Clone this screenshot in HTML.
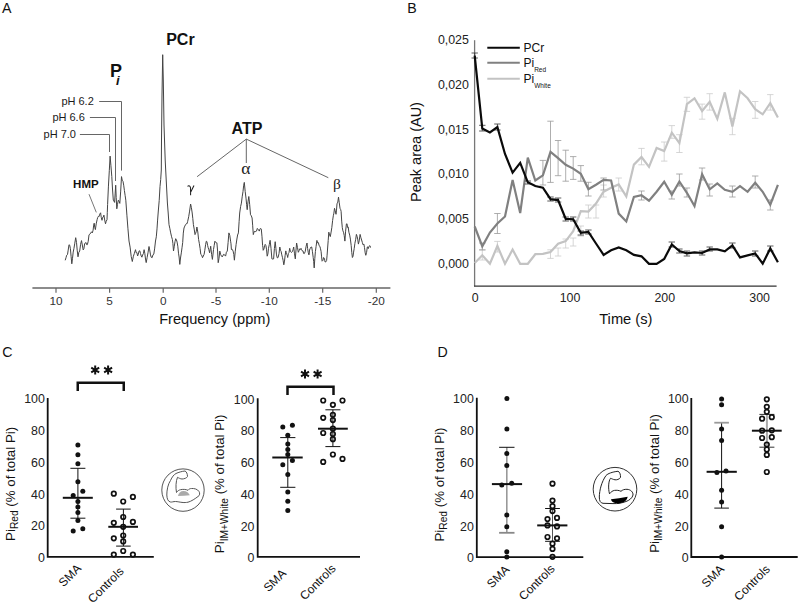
<!DOCTYPE html>
<html><head><meta charset="utf-8">
<style>
html,body{margin:0;padding:0;background:#fff;}
body{width:800px;height:604px;overflow:hidden;}
svg{display:block;font-family:"Liberation Sans",sans-serif;}
.tk{font-size:12px;fill:#222;}
.tkc{font-size:12.4px;fill:#222;}
.tka{font-size:11.8px;fill:#333;}
.pl{font-size:14.2px;fill:#111;}
</style></head><body>
<svg width="800" height="604" viewBox="0 0 800 604">
<rect width="800" height="604" fill="#fff"/>

<text x="2" y="12.7" class="pl">A</text>
<text x="407.3" y="12.5" class="pl">B</text>
<text x="2.2" y="356.6" class="pl">C</text>
<text x="437.6" y="356.9" class="pl">D</text>
<polyline points="65.2,260.3 66.0,257.7 66.7,255.2 67.5,254.5 68.2,250.1 69.0,244.7 69.7,245.2 70.4,248.7 71.1,256.4 71.8,263.8 72.5,258.3 73.2,252.1 73.9,248.7 74.8,243.2 75.7,237.7 76.5,242.4 77.2,250.2 78.0,256.8 78.8,252.4 79.7,251.0 80.6,244.3 81.5,240.6 82.3,245.0 83.2,249.9 83.9,248.7 84.6,243.9 85.3,242.9 86.0,242.5 86.6,244.6 87.3,244.7 88.2,241.4 89.0,234.8 89.8,234.2 90.7,233.1 91.5,231.8 92.3,232.9 93.1,230.2 93.7,225.1 94.2,223.2 94.8,227.7 95.4,229.6 96.2,223.9 97.1,219.7 97.7,217.5 98.3,216.4 98.9,216.8 99.8,214.1 100.6,212.8 101.3,217.7 102.0,220.3 102.6,217.4 103.3,217.1 103.9,215.1 104.7,220.0 105.5,223.8 106.2,221.3 107.0,219.7 107.3,212.3 107.6,204.6 108.4,186.9 109.3,170.7 110.1,156.1 110.9,165.3 111.8,176.6 112.5,189.0 113.3,200.2 113.9,201.0 114.6,202.4 115.2,193.1 115.7,185.2 116.2,197.3 116.8,208.8 117.5,204.3 118.3,200.2 119.0,201.1 119.8,203.4 120.7,191.1 121.5,176.6 122.2,180.2 123.0,181.4 123.7,185.2 124.4,190.5 125.1,195.3 125.8,200.2 126.9,215.2 127.9,228.2 129.0,241.0 130.1,247.1 131.2,256.4 132.3,261.5 133.4,256.2 134.4,253.3 135.5,249.7 136.2,252.7 136.9,252.6 137.6,256.0 138.3,254.2 139.1,250.9 139.8,250.8 140.5,253.5 141.2,256.0 141.9,257.2 142.6,255.0 143.4,253.6 144.1,249.7 144.8,253.3 145.5,259.0 146.2,262.6 147.1,257.6 148.1,252.2 149.0,246.5 149.7,249.9 150.5,254.9 151.2,257.2 152.1,257.7 152.9,255.0 153.8,254.0 154.6,248.9 155.5,241.0 156.3,236.8 157.0,228.9 157.6,220.1 158.3,211.0 159.2,200.6 160.0,186.6 160.7,179.5 161.3,170.0 161.5,140.0 162.0,95.0 162.7,54.7 163.3,80.0 164.0,125.0 165.2,160.0 165.7,170.0 167.4,203.0 168.2,213.0 169.0,224.6 169.8,228.3 170.7,232.9 171.6,236.8 172.4,239.5 172.9,243.5 173.5,251.0 174.2,246.8 175.0,241.6 175.7,238.7 176.4,239.8 177.1,242.1 177.8,246.2 178.5,253.2 179.1,257.0 179.8,264.4 180.5,258.0 181.3,252.9 182.0,247.8 182.7,242.5 183.3,233.1 184.0,228.0 184.8,226.1 185.6,224.6 186.3,223.7 187.0,223.8 187.7,221.3 188.7,216.7 189.6,211.1 190.6,204.0 191.4,207.7 192.2,213.0 192.8,218.5 193.4,224.6 194.2,229.1 195.0,234.6 195.6,233.4 196.3,231.2 196.9,227.0 197.8,232.0 198.6,239.5 199.3,243.3 200.1,248.5 200.8,254.4 201.7,255.1 202.5,257.7 203.3,256.0 204.1,254.4 204.8,250.3 205.6,244.7 206.3,241.2 206.9,241.6 207.6,245.3 208.2,247.8 208.9,249.8 209.6,252.8 210.1,249.7 210.7,246.2 211.6,254.4 212.4,259.4 212.9,255.1 213.5,249.5 214.2,245.4 214.9,241.2 215.6,242.2 216.2,242.9 216.9,242.8 217.6,251.1 218.2,262.7 219.0,258.3 219.8,251.1 220.7,254.6 221.5,256.1 222.2,256.9 222.8,256.0 223.5,254.4 224.2,254.6 224.9,255.2 225.6,256.1 226.4,252.2 227.3,251.1 228.1,242.5 228.9,232.9 229.8,235.5 230.6,241.2 231.0,243.8 231.4,249.5 232.2,249.3 233.1,251.1 233.8,254.4 234.4,260.2 235.2,251.8 236.1,244.5 236.9,239.0 237.6,235.0 238.4,232.9 239.1,221.7 239.7,213.0 240.6,206.6 241.4,203.1 242.2,196.8 243.0,191.5 243.7,185.2 244.3,182.4 245.2,191.6 246.0,198.1 246.6,204.3 247.2,209.7 248.0,201.8 248.8,196.5 249.7,204.7 250.5,214.7 251.3,215.8 252.1,218.0 252.7,225.8 253.3,234.6 254.2,231.6 255.0,231.3 255.8,231.6 256.5,231.1 257.3,228.4 258.0,229.2 258.6,230.1 259.3,231.1 260.0,228.9 260.6,228.3 261.3,229.1 262.0,236.8 262.6,245.6 262.9,247.1 263.2,250.3 263.9,249.1 264.6,245.6 265.2,244.4 265.9,245.6 266.5,249.2 267.2,256.2 267.9,253.9 268.5,248.3 269.3,244.4 270.1,240.3 271.0,248.3 271.9,258.9 272.8,259.1 273.6,258.9 274.4,248.6 275.2,241.7 275.9,248.4 276.5,254.9 277.3,257.9 278.1,257.5 279.0,253.6 279.8,247.0 280.5,250.3 281.1,251.4 281.8,254.9 282.5,257.7 283.1,260.3 283.8,264.8 284.5,261.1 285.1,255.7 285.8,250.9 286.4,254.1 287.1,254.7 287.7,257.5 288.4,253.4 289.0,252.5 289.7,248.3 290.4,251.4 291.0,252.2 291.7,252.3 292.4,251.6 293.0,249.9 293.7,247.0 294.5,253.8 295.3,258.9 296.0,250.0 296.6,243.0 297.5,247.7 298.3,252.3 299.0,250.9 299.6,248.8 300.3,249.6 301.0,248.3 301.6,249.7 302.3,250.9 303.0,250.9 303.6,253.4 304.3,253.6 305.2,251.7 306.1,246.3 307.0,243.0 307.6,248.5 308.3,252.7 308.9,254.9 309.2,254.1 309.5,250.0 310.2,248.5 311.0,247.0 311.7,247.0 312.4,251.3 313.2,257.5 313.7,261.6 314.2,267.9 314.8,258.6 315.4,251.5 316.1,246.4 316.9,240.4 317.6,242.9 318.4,242.6 319.1,245.7 319.9,246.3 320.5,248.8 321.1,251.5 321.6,256.9 322.1,261.2 322.9,260.4 323.6,257.5 324.4,258.3 325.1,262.0 325.9,261.8 326.6,260.5 327.1,255.2 327.7,247.0 328.2,240.6 328.8,232.2 329.6,235.3 330.3,236.6 331.1,232.1 331.8,227.7 332.6,220.6 333.3,215.8 333.9,213.1 334.5,208.3 335.2,210.7 336.0,214.3 336.5,210.1 337.0,203.8 337.8,202.1 338.5,197.1 339.2,202.3 340.0,208.3 340.6,209.4 341.1,211.3 341.7,221.1 342.3,227.7 342.9,230.8 343.5,232.2 344.2,235.5 344.9,241.1 345.6,231.2 346.4,224.0 347.0,223.7 347.6,227.5 348.2,227.0 348.9,232.2 349.7,235.1 350.4,239.1 351.2,245.6 351.8,252.7 352.4,257.5 353.0,256.3 353.6,252.1 354.2,248.6 354.9,243.3 355.7,239.3 356.4,234.4 357.1,236.3 357.7,239.1 358.4,244.1 359.2,240.9 360.1,234.4 360.9,237.7 361.6,240.0 362.4,242.6 363.1,244.9 363.9,244.1 364.5,247.6 365.2,252.9 365.8,255.3 366.6,252.3 367.3,247.0 367.8,246.8 368.3,248.6 369.1,246.2 369.8,245.6 370.1,245.9 370.5,247.6" fill="none" stroke="#444" stroke-width="1" stroke-linejoin="miter" stroke-miterlimit="3"/>
<path d="M32.4 288.1H390.4" stroke="#666" stroke-width="1.5"/>
<path d="M56.0 288V292.8" stroke="#666" stroke-width="1.2"/>
<text x="56.0" y="304.5" text-anchor="middle" class="tka">10</text>
<path d="M109.6 288V292.8" stroke="#666" stroke-width="1.2"/>
<text x="109.6" y="304.5" text-anchor="middle" class="tka">5</text>
<path d="M163.2 288V292.8" stroke="#666" stroke-width="1.2"/>
<text x="163.2" y="304.5" text-anchor="middle" class="tka">0</text>
<path d="M216.0 288V292.8" stroke="#666" stroke-width="1.2"/>
<text x="216.0" y="304.5" text-anchor="middle" class="tka">-5</text>
<path d="M269.3 288V292.8" stroke="#666" stroke-width="1.2"/>
<text x="269.3" y="304.5" text-anchor="middle" class="tka">-10</text>
<path d="M322.7 288V292.8" stroke="#666" stroke-width="1.2"/>
<text x="322.7" y="304.5" text-anchor="middle" class="tka">-15</text>
<path d="M376.3 288V292.8" stroke="#666" stroke-width="1.2"/>
<text x="376.3" y="304.5" text-anchor="middle" class="tka">-20</text>
<text x="159.2" y="324.4" style="font-size:14.6px;fill:#111">Frequency (ppm)</text>
<path d="M99.2 101.5H121.5V170.6M89.9 117.5H115.5V181M79.9 134.5H109.5V152" stroke="#555" stroke-width="0.9" fill="none"/>
<text x="93.8" y="104.6" text-anchor="end" style="font-size:11px;fill:#1a1a1a">pH 6.2</text>
<text x="84.8" y="121.4" text-anchor="end" style="font-size:11px;fill:#1a1a1a">pH 6.6</text>
<text x="76" y="138.3" text-anchor="end" style="font-size:11px;fill:#1a1a1a">pH 7.0</text>
<text x="110" y="76.5" style="font-size:18px;font-weight:bold;fill:#111">P</text>
<text x="116" y="84.5" style="font-size:13px;font-weight:bold;font-style:italic;fill:#111">i</text>
<text x="166.2" y="44.5" style="font-size:16px;font-weight:bold;fill:#111">PCr</text>
<text x="231.6" y="134.1" style="font-size:16px;font-weight:bold;fill:#111">ATP</text>
<path d="M197.1 176.7L246.3 139.1L328.3 177.7M246.3 139.1V163" stroke="#555" stroke-width="0.9" fill="none"/>
<text x="245.9" y="174.2" text-anchor="middle" style="font-family:'Liberation Serif',serif;font-size:17.5px;fill:#222">&#945;</text>
<path d="M187.6 186.6C188.3 185.4 189.9 185.4 190.5 187.6L190.6 195.2M194 185.5L190.5 192.6" stroke="#222" stroke-width="1.05" fill="none"/>
<text x="337" y="188.6" text-anchor="middle" style="font-family:'Liberation Serif',serif;font-size:15.5px;fill:#222">&#946;</text>
<text x="73.1" y="188.2" style="font-size:11.5px;font-weight:bold;fill:#111">HMP</text>
<path d="M89 194.2L96.3 212.4" stroke="#555" stroke-width="0.8"/>
<path d="M474.6 40.2V286.2" stroke="#777" stroke-width="1.3"/>
<path d="M474 286.2H776.6" stroke="#333" stroke-width="1.2"/>
<text x="468.9" y="43.7" text-anchor="end" class="tkc">0,025</text>
<text x="468.9" y="88.6" text-anchor="end" class="tkc">0,020</text>
<text x="468.9" y="133.5" text-anchor="end" class="tkc">0,015</text>
<text x="468.9" y="178.4" text-anchor="end" class="tkc">0,010</text>
<text x="468.9" y="223.3" text-anchor="end" class="tkc">0,005</text>
<text x="468.9" y="268.2" text-anchor="end" class="tkc">0,000</text>
<text x="475.2" y="301.5" text-anchor="middle" class="tkc">0</text>
<text x="570.0" y="301.5" text-anchor="middle" class="tkc">100</text>
<text x="664.8" y="301.5" text-anchor="middle" class="tkc">200</text>
<text x="759.6" y="301.5" text-anchor="middle" class="tkc">300</text>
<text x="599.2" y="324.2" style="font-size:14.7px;fill:#111">Time (s)</text>
<text transform="translate(420.6,202.0) rotate(-90)" style="font-size:14.5px;fill:#111">Peak area (AU)</text>
<path d="M482.3 249.6V260.0M479.1 249.6H485.5M479.1 260.0H485.5" stroke="#ccc" stroke-width="0.8" fill="none"/>
<path d="M497.4 241.4V252.0M494.2 241.4H500.6M494.2 252.0H500.6" stroke="#ccc" stroke-width="0.8" fill="none"/>
<path d="M550.5 249.8V258.4M547.3 249.8H553.7M547.3 258.4H553.7" stroke="#ccc" stroke-width="0.8" fill="none"/>
<path d="M558.1 248.0V256.0M554.9 248.0H561.3M554.9 256.0H561.3" stroke="#ccc" stroke-width="0.8" fill="none"/>
<path d="M565.7 239.0V248.0M562.5 239.0H568.9M562.5 248.0H568.9" stroke="#ccc" stroke-width="0.8" fill="none"/>
<path d="M573.2 238.0V246.0M570.0 238.0H576.4M570.0 246.0H576.4" stroke="#ccc" stroke-width="0.8" fill="none"/>
<path d="M580.8 226.0V236.0M577.6 226.0H584.0M577.6 236.0H584.0" stroke="#ccc" stroke-width="0.8" fill="none"/>
<path d="M588.4 205.0V218.0M585.2 205.0H591.6M585.2 218.0H591.6" stroke="#ccc" stroke-width="0.8" fill="none"/>
<path d="M596.0 205.0V218.0M592.8 205.0H599.2M592.8 218.0H599.2" stroke="#ccc" stroke-width="0.8" fill="none"/>
<path d="M603.6 185.0V197.0M600.4 185.0H606.8M600.4 197.0H606.8" stroke="#ccc" stroke-width="0.8" fill="none"/>
<path d="M618.7 178.0V191.0M615.5 178.0H621.9M615.5 191.0H621.9" stroke="#ccc" stroke-width="0.8" fill="none"/>
<path d="M641.5 148.4V164.8M638.3 148.4H644.7M638.3 164.8H644.7" stroke="#ccc" stroke-width="0.8" fill="none"/>
<path d="M664.2 142.0V161.1M661.0 142.0H667.4M661.0 161.1H667.4" stroke="#ccc" stroke-width="0.8" fill="none"/>
<path d="M671.8 125.6V138.3M668.6 125.6H675.0M668.6 138.3H675.0" stroke="#ccc" stroke-width="0.8" fill="none"/>
<path d="M679.4 134.7V152.5M676.2 134.7H682.6M676.2 152.5H682.6" stroke="#ccc" stroke-width="0.8" fill="none"/>
<path d="M686.9 97.3V111.4M683.7 97.3H690.1M683.7 111.4H690.1" stroke="#ccc" stroke-width="0.8" fill="none"/>
<path d="M702.1 104.1V119.2M698.9 104.1H705.3M698.9 119.2H705.3" stroke="#ccc" stroke-width="0.8" fill="none"/>
<path d="M709.7 93.7V110.1M706.5 93.7H712.9M706.5 110.1H712.9" stroke="#ccc" stroke-width="0.8" fill="none"/>
<path d="M732.4 118.3V134.7M729.2 118.3H735.6M729.2 134.7H735.6" stroke="#ccc" stroke-width="0.8" fill="none"/>
<path d="M755.2 101.5V118.3M752.0 101.5H758.4M752.0 118.3H758.4" stroke="#ccc" stroke-width="0.8" fill="none"/>
<path d="M770.3 94.6V110.1M767.1 94.6H773.5M767.1 110.1H773.5" stroke="#ccc" stroke-width="0.8" fill="none"/>
<path d="M482.3 243.0V250.0M479.1 243.0H485.5M479.1 250.0H485.5" stroke="#999" stroke-width="0.8" fill="none"/>
<path d="M497.4 213.5V233.5M494.2 213.5H500.6M494.2 233.5H500.6" stroke="#999" stroke-width="0.8" fill="none"/>
<path d="M542.9 160.4V185.0M539.7 160.4H546.1M539.7 185.0H546.1" stroke="#999" stroke-width="0.8" fill="none"/>
<path d="M550.5 121.2V182.4M547.3 121.2H553.7M547.3 182.4H553.7" stroke="#999" stroke-width="0.8" fill="none"/>
<path d="M558.1 140.5V175.7M554.9 140.5H561.3M554.9 175.7H561.3" stroke="#999" stroke-width="0.8" fill="none"/>
<path d="M565.7 150.2V181.2M562.5 150.2H568.9M562.5 181.2H568.9" stroke="#999" stroke-width="0.8" fill="none"/>
<path d="M573.2 156.6V179.4M570.0 156.6H576.4M570.0 179.4H576.4" stroke="#999" stroke-width="0.8" fill="none"/>
<path d="M580.8 165.6V181.2M577.6 165.6H584.0M577.6 181.2H584.0" stroke="#999" stroke-width="0.8" fill="none"/>
<path d="M588.4 182.3V196.0M585.2 182.3H591.6M585.2 196.0H591.6" stroke="#999" stroke-width="0.8" fill="none"/>
<path d="M603.6 178.0V190.0M600.4 178.0H606.8M600.4 190.0H606.8" stroke="#999" stroke-width="0.8" fill="none"/>
<path d="M641.5 191.0V200.0M638.3 191.0H644.7M638.3 200.0H644.7" stroke="#999" stroke-width="0.8" fill="none"/>
<path d="M671.8 191.0V199.0M668.6 191.0H675.0M668.6 199.0H675.0" stroke="#999" stroke-width="0.8" fill="none"/>
<path d="M679.4 174.0V186.0M676.2 174.0H682.6M676.2 186.0H682.6" stroke="#999" stroke-width="0.8" fill="none"/>
<path d="M686.9 188.0V197.0M683.7 188.0H690.1M683.7 197.0H690.1" stroke="#999" stroke-width="0.8" fill="none"/>
<path d="M702.1 168.0V180.0M698.9 168.0H705.3M698.9 180.0H705.3" stroke="#999" stroke-width="0.8" fill="none"/>
<path d="M709.7 184.0V196.0M706.5 184.0H712.9M706.5 196.0H712.9" stroke="#999" stroke-width="0.8" fill="none"/>
<path d="M732.4 186.0V197.0M729.2 186.0H735.6M729.2 197.0H735.6" stroke="#999" stroke-width="0.8" fill="none"/>
<path d="M755.2 176.0V188.0M752.0 176.0H758.4M752.0 188.0H758.4" stroke="#999" stroke-width="0.8" fill="none"/>
<path d="M770.3 200.0V210.0M767.1 200.0H773.5M767.1 210.0H773.5" stroke="#999" stroke-width="0.8" fill="none"/>
<polyline points="474.7,263.0 482.3,255.3 489.9,263.8 497.4,245.9 505.0,263.8 512.6,249.6 520.2,263.8 527.8,263.8 535.3,254.2 542.9,253.9 550.5,252.0 558.1,243.8 565.7,241.1 573.2,231.1 580.8,211.2 588.4,211.6 596.0,203.6 603.6,191.7 611.1,187.7 618.7,184.4 626.3,196.4 633.9,164.6 641.5,157.0 649.0,166.9 656.6,148.0 664.2,151.1 671.8,132.7 679.4,143.1 686.9,104.1 694.5,98.3 702.1,111.0 709.7,101.9 717.3,118.7 724.8,92.4 732.4,126.5 740.0,91.3 747.6,98.3 755.2,109.2 762.7,114.3 770.3,103.2 777.9,117.4" fill="none" stroke="#c3c3c3" stroke-width="2.2" stroke-linejoin="miter"/>
<polyline points="474.7,226.5 482.3,246.3 489.9,232.5 497.4,223.5 505.0,216.5 512.6,180.0 520.2,213.1 527.8,157.7 535.3,180.5 542.9,175.3 550.5,151.9 558.1,158.1 565.7,164.8 573.2,168.6 580.8,173.8 588.4,189.1 596.0,184.7 603.6,179.8 611.1,180.5 618.7,213.6 626.3,221.5 633.9,197.0 641.5,195.3 649.0,200.7 656.6,191.7 664.2,181.8 671.8,194.8 679.4,181.5 686.9,192.8 694.5,206.1 702.1,174.3 709.7,189.4 717.3,183.4 724.8,189.8 732.4,191.8 740.0,186.2 747.6,191.8 755.2,182.8 762.7,191.8 770.3,204.7 777.9,184.8" fill="none" stroke="#808080" stroke-width="2.2" stroke-linejoin="miter"/>
<path d="M474.7 53.0V58.0M471.5 53.0H477.9M471.5 58.0H477.9" stroke="#333" stroke-width="0.8" fill="none"/>
<path d="M482.3 125.3V131.0M479.1 125.3H485.5M479.1 131.0H485.5" stroke="#333" stroke-width="0.8" fill="none"/>
<path d="M497.4 124.0V130.0M494.2 124.0H500.6M494.2 130.0H500.6" stroke="#333" stroke-width="0.8" fill="none"/>
<path d="M527.8 181.0V184.0M524.6 181.0H531.0M524.6 184.0H531.0" stroke="#333" stroke-width="0.8" fill="none"/>
<path d="M550.5 197.0V201.0M547.3 197.0H553.7M547.3 201.0H553.7" stroke="#333" stroke-width="0.8" fill="none"/>
<path d="M558.1 198.0V202.0M554.9 198.0H561.3M554.9 202.0H561.3" stroke="#333" stroke-width="0.8" fill="none"/>
<path d="M565.7 217.0V221.0M562.5 217.0H568.9M562.5 221.0H568.9" stroke="#333" stroke-width="0.8" fill="none"/>
<path d="M573.2 217.0V221.0M570.0 217.0H576.4M570.0 221.0H576.4" stroke="#333" stroke-width="0.8" fill="none"/>
<path d="M580.8 231.0V235.0M577.6 231.0H584.0M577.6 235.0H584.0" stroke="#333" stroke-width="0.8" fill="none"/>
<path d="M588.4 230.0V234.0M585.2 230.0H591.6M585.2 234.0H591.6" stroke="#333" stroke-width="0.8" fill="none"/>
<path d="M671.8 242.0V247.0M668.6 242.0H675.0M668.6 247.0H675.0" stroke="#333" stroke-width="0.8" fill="none"/>
<path d="M679.4 249.0V253.0M676.2 249.0H682.6M676.2 253.0H682.6" stroke="#333" stroke-width="0.8" fill="none"/>
<path d="M686.9 251.0V256.0M683.7 251.0H690.1M683.7 256.0H690.1" stroke="#333" stroke-width="0.8" fill="none"/>
<path d="M702.1 251.0V255.0M698.9 251.0H705.3M698.9 255.0H705.3" stroke="#333" stroke-width="0.8" fill="none"/>
<path d="M709.7 247.0V251.0M706.5 247.0H712.9M706.5 251.0H712.9" stroke="#333" stroke-width="0.8" fill="none"/>
<path d="M732.4 243.0V248.0M729.2 243.0H735.6M729.2 248.0H735.6" stroke="#333" stroke-width="0.8" fill="none"/>
<path d="M755.2 251.0V256.0M752.0 251.0H758.4M752.0 256.0H758.4" stroke="#333" stroke-width="0.8" fill="none"/>
<path d="M770.3 246.0V251.0M767.1 246.0H773.5M767.1 251.0H773.5" stroke="#333" stroke-width="0.8" fill="none"/>
<polyline points="474.7,55.7 482.3,128.6 489.9,132.4 497.4,127.1 505.0,154.0 512.6,172.6 520.2,162.9 527.8,182.3 535.3,186.0 542.9,187.7 550.5,199.2 558.1,200.1 565.7,218.9 573.2,219.2 580.8,232.9 588.4,232.0 596.0,243.5 603.6,254.9 611.1,250.3 618.7,247.4 626.3,250.3 633.9,254.9 641.5,256.3 649.0,263.8 656.6,263.8 664.2,258.9 671.8,244.4 679.4,251.0 686.9,253.4 694.5,252.4 702.1,253.0 709.7,249.4 717.3,249.4 724.8,251.4 732.4,245.4 740.0,257.4 747.6,255.4 755.2,253.4 762.7,263.7 770.3,248.4 777.9,262.3" fill="none" stroke="#0a0a0a" stroke-width="2.2" stroke-linejoin="miter"/>
<path d="M487.3 47.8H519.8" stroke="#0a0a0a" stroke-width="2"/>
<path d="M487.3 62.8H519.8" stroke="#808080" stroke-width="2"/>
<path d="M487.3 78.8H519.8" stroke="#c3c3c3" stroke-width="2"/>
<text x="523.5" y="51.5" style="font-size:12px;fill:#111">PCr</text>
<text x="523.5" y="66.9" style="font-size:12px;fill:#111">Pi<tspan dy="4.6" style="font-size:6.5px">Red</tspan></text>
<text x="523.5" y="83.1" style="font-size:12px;fill:#111">Pi<tspan dy="4.7" style="font-size:6.5px">White</tspan></text>
<path d="M47.7 398.0V556.9H153.8" stroke="#111" stroke-width="1.8" fill="none"/>
<text x="44.9" y="562.2" text-anchor="end" class="tkc">0</text>
<text x="44.9" y="530.4" text-anchor="end" class="tkc">20</text>
<text x="44.9" y="498.6" text-anchor="end" class="tkc">40</text>
<text x="44.9" y="466.9" text-anchor="end" class="tkc">60</text>
<text x="44.9" y="435.1" text-anchor="end" class="tkc">80</text>
<text x="44.9" y="403.3" text-anchor="end" class="tkc">100</text>
<path d="M77.9 468.3V518.2" stroke="#111" stroke-width="1.0"/><path d="M70.4 468.3H85.4" stroke="#111" stroke-width="1.0"/><path d="M70.4 518.2H85.4" stroke="#111" stroke-width="1.0"/>
<path d="M123.4 509.1V546.1" stroke="#111" stroke-width="1.0"/><path d="M116.1 509.1H130.7" stroke="#111" stroke-width="1.0"/><path d="M116.1 546.1H130.7" stroke="#111" stroke-width="1.0"/>
<circle cx="77.9" cy="445.0" r="2.5" fill="#111"/>
<circle cx="77.9" cy="454.7" r="2.5" fill="#111"/>
<circle cx="77.9" cy="463.8" r="2.5" fill="#111"/>
<circle cx="77.9" cy="481.7" r="2.5" fill="#111"/>
<circle cx="82.8" cy="491.2" r="2.5" fill="#111"/>
<circle cx="73.2" cy="495.4" r="2.5" fill="#111"/>
<circle cx="77.9" cy="501.5" r="2.5" fill="#111"/>
<circle cx="77.9" cy="506.9" r="2.5" fill="#111"/>
<circle cx="77.9" cy="512.4" r="2.5" fill="#111"/>
<circle cx="77.9" cy="520.4" r="2.5" fill="#111"/>
<circle cx="73.2" cy="531.0" r="2.5" fill="#111"/>
<circle cx="82.8" cy="528.8" r="2.5" fill="#111"/>
<circle cx="113.8" cy="493.7" r="2.25" fill="none" stroke="#111" stroke-width="1.7"/>
<circle cx="132.9" cy="496.9" r="2.25" fill="none" stroke="#111" stroke-width="1.7"/>
<circle cx="123.2" cy="501.5" r="2.25" fill="none" stroke="#111" stroke-width="1.7"/>
<circle cx="123.2" cy="517.0" r="2.25" fill="none" stroke="#111" stroke-width="1.7"/>
<circle cx="113.8" cy="522.8" r="2.25" fill="none" stroke="#111" stroke-width="1.7"/>
<circle cx="132.9" cy="521.9" r="2.25" fill="none" stroke="#111" stroke-width="1.7"/>
<circle cx="123.2" cy="526.8" r="2.25" fill="none" stroke="#111" stroke-width="1.7"/>
<circle cx="113.8" cy="538.3" r="2.25" fill="none" stroke="#111" stroke-width="1.7"/>
<circle cx="123.2" cy="535.5" r="2.25" fill="none" stroke="#111" stroke-width="1.7"/>
<circle cx="123.2" cy="541.4" r="2.25" fill="none" stroke="#111" stroke-width="1.7"/>
<circle cx="123.2" cy="551.0" r="2.25" fill="none" stroke="#111" stroke-width="1.7"/>
<circle cx="113.8" cy="554.6" r="2.25" fill="none" stroke="#111" stroke-width="1.7"/>
<circle cx="132.9" cy="554.6" r="2.25" fill="none" stroke="#111" stroke-width="1.7"/>
<path d="M62.8 497.8H92.8" stroke="#111" stroke-width="2.0"/>
<path d="M108.3 526.8H138.0" stroke="#111" stroke-width="2.0"/>
<path d="M77.75 391V382.75H123.75V391" stroke="#111" stroke-width="2.5" fill="none"/>
<path d="M95.20 365.40L95.20 374.60M91.22 367.70L99.18 372.30M99.18 367.70L91.22 372.30" stroke="#111" stroke-width="2.0"/>
<path d="M108.10 365.40L108.10 374.60M104.12 367.70L112.08 372.30M112.08 367.70L104.12 372.30" stroke="#111" stroke-width="2.0"/>
<text transform="translate(81.9,569.2) rotate(-45)" text-anchor="end" style="font-size:12.0px;fill:#111">SMA</text>
<text transform="translate(124.4,572.1) rotate(-45)" text-anchor="end" style="font-size:12.0px;fill:#111">Controls</text>
<text transform="translate(14.5,540.9) rotate(-90)" style="font-size:13.3px;fill:#111">Pi<tspan dy="3.5" style="font-size:10.2px">Red</tspan><tspan dy="-3.5"> (% of total Pi)</tspan></text>
<path d="M257.7 398.2V556.9H360.0" stroke="#111" stroke-width="1.8" fill="none"/>
<text x="254.5" y="562.2" text-anchor="end" class="tkc">0</text>
<text x="254.5" y="530.5" text-anchor="end" class="tkc">20</text>
<text x="254.5" y="498.7" text-anchor="end" class="tkc">40</text>
<text x="254.5" y="467.0" text-anchor="end" class="tkc">60</text>
<text x="254.5" y="435.2" text-anchor="end" class="tkc">80</text>
<text x="254.5" y="403.5" text-anchor="end" class="tkc">100</text>
<path d="M287.8 437.6V487.3" stroke="#111" stroke-width="1.0"/><path d="M280.2 437.6H295.4" stroke="#111" stroke-width="1.0"/><path d="M280.2 487.3H295.4" stroke="#111" stroke-width="1.0"/>
<path d="M332.9 409.8V446.6" stroke="#111" stroke-width="1.0"/><path d="M325.4 409.8H340.4" stroke="#111" stroke-width="1.0"/><path d="M325.4 446.6H340.4" stroke="#111" stroke-width="1.0"/>
<circle cx="282.8" cy="427.1" r="2.5" fill="#111"/>
<circle cx="292.4" cy="425.3" r="2.5" fill="#111"/>
<circle cx="287.8" cy="435.2" r="2.5" fill="#111"/>
<circle cx="287.8" cy="444.0" r="2.5" fill="#111"/>
<circle cx="287.8" cy="449.5" r="2.5" fill="#111"/>
<circle cx="287.8" cy="454.5" r="2.5" fill="#111"/>
<circle cx="292.4" cy="460.5" r="2.5" fill="#111"/>
<circle cx="282.8" cy="464.8" r="2.5" fill="#111"/>
<circle cx="287.8" cy="474.4" r="2.5" fill="#111"/>
<circle cx="287.8" cy="491.9" r="2.5" fill="#111"/>
<circle cx="287.8" cy="501.2" r="2.5" fill="#111"/>
<circle cx="287.8" cy="510.5" r="2.5" fill="#111"/>
<circle cx="323.2" cy="400.5" r="2.25" fill="none" stroke="#111" stroke-width="1.7"/>
<circle cx="342.5" cy="400.5" r="2.25" fill="none" stroke="#111" stroke-width="1.7"/>
<circle cx="332.9" cy="404.8" r="2.25" fill="none" stroke="#111" stroke-width="1.7"/>
<circle cx="323.2" cy="417.8" r="2.25" fill="none" stroke="#111" stroke-width="1.7"/>
<circle cx="332.9" cy="414.8" r="2.25" fill="none" stroke="#111" stroke-width="1.7"/>
<circle cx="332.9" cy="420.1" r="2.25" fill="none" stroke="#111" stroke-width="1.7"/>
<circle cx="332.9" cy="428.7" r="2.25" fill="none" stroke="#111" stroke-width="1.7"/>
<circle cx="323.2" cy="433.0" r="2.25" fill="none" stroke="#111" stroke-width="1.7"/>
<circle cx="332.9" cy="434.0" r="2.25" fill="none" stroke="#111" stroke-width="1.7"/>
<circle cx="332.9" cy="439.2" r="2.25" fill="none" stroke="#111" stroke-width="1.7"/>
<circle cx="332.9" cy="454.5" r="2.25" fill="none" stroke="#111" stroke-width="1.7"/>
<circle cx="342.5" cy="458.9" r="2.25" fill="none" stroke="#111" stroke-width="1.7"/>
<circle cx="323.2" cy="461.9" r="2.25" fill="none" stroke="#111" stroke-width="1.7"/>
<path d="M272.3 457.5H302.7" stroke="#111" stroke-width="2.0"/>
<path d="M318.0 428.7H347.8" stroke="#111" stroke-width="2.0"/>
<path d="M287.5 395V386.8H333.5V395" stroke="#111" stroke-width="2.5" fill="none"/>
<path d="M305.00 369.40L305.00 378.60M301.02 371.70L308.98 376.30M308.98 371.70L301.02 376.30" stroke="#111" stroke-width="2.0"/>
<path d="M317.60 369.40L317.60 378.60M313.62 371.70L321.58 376.30M321.58 371.70L313.62 376.30" stroke="#111" stroke-width="2.0"/>
<text transform="translate(286.8,574.2) rotate(-45)" text-anchor="end" style="font-size:12.0px;fill:#111">SMA</text>
<text transform="translate(336.4,569.2) rotate(-45)" text-anchor="end" style="font-size:12.0px;fill:#111">Controls</text>
<text transform="translate(224.4,553.2) rotate(-90)" style="font-size:13.3px;fill:#111">Pi<tspan dy="3.5" style="font-size:10.2px">IM+White</tspan><tspan dy="-3.5"> (% of total Pi)</tspan></text>
<path d="M476.8 397.8V557.1H583.3" stroke="#111" stroke-width="1.8" fill="none"/>
<text x="473.8" y="562.4" text-anchor="end" class="tkc">0</text>
<text x="473.8" y="530.5" text-anchor="end" class="tkc">20</text>
<text x="473.8" y="498.7" text-anchor="end" class="tkc">40</text>
<text x="473.8" y="466.8" text-anchor="end" class="tkc">60</text>
<text x="473.8" y="435.0" text-anchor="end" class="tkc">80</text>
<text x="473.8" y="403.1" text-anchor="end" class="tkc">100</text>
<path d="M506.8 447.3V532.8" stroke="#999" stroke-width="1.6"/><path d="M499.1 447.3H514.5" stroke="#111" stroke-width="1.0"/><path d="M499.1 532.8H514.5" stroke="#888" stroke-width="1.8"/>
<path d="M552.5 508.5V541.3" stroke="#555" stroke-width="1.0"/><path d="M545.1 508.5H559.9" stroke="#111" stroke-width="1.0"/><path d="M545.1 541.3H559.9" stroke="#111" stroke-width="1.0"/>
<circle cx="506.9" cy="398.6" r="2.5" fill="#111"/>
<circle cx="506.9" cy="429.0" r="2.5" fill="#111"/>
<circle cx="506.8" cy="453.5" r="2.5" fill="#111"/>
<circle cx="506.8" cy="465.4" r="2.5" fill="#111"/>
<circle cx="501.8" cy="485.1" r="2.5" fill="#111"/>
<circle cx="511.7" cy="483.3" r="2.5" fill="#111"/>
<circle cx="506.8" cy="515.1" r="2.5" fill="#111"/>
<circle cx="506.8" cy="526.8" r="2.5" fill="#111"/>
<circle cx="506.8" cy="551.7" r="2.5" fill="#111"/>
<circle cx="506.8" cy="557.0" r="2.5" fill="#111"/>
<circle cx="552.5" cy="483.7" r="2.25" fill="none" stroke="#111" stroke-width="1.7"/>
<circle cx="552.5" cy="500.6" r="2.25" fill="none" stroke="#111" stroke-width="1.7"/>
<circle cx="552.5" cy="506.2" r="2.25" fill="none" stroke="#111" stroke-width="1.7"/>
<circle cx="552.5" cy="511.1" r="2.25" fill="none" stroke="#111" stroke-width="1.7"/>
<circle cx="547.5" cy="519.1" r="2.25" fill="none" stroke="#111" stroke-width="1.7"/>
<circle cx="557.0" cy="517.9" r="2.25" fill="none" stroke="#111" stroke-width="1.7"/>
<circle cx="547.5" cy="525.4" r="2.25" fill="none" stroke="#111" stroke-width="1.7"/>
<circle cx="557.0" cy="526.4" r="2.25" fill="none" stroke="#111" stroke-width="1.7"/>
<circle cx="547.5" cy="537.0" r="2.25" fill="none" stroke="#111" stroke-width="1.7"/>
<circle cx="557.0" cy="538.3" r="2.25" fill="none" stroke="#111" stroke-width="1.7"/>
<circle cx="552.5" cy="543.7" r="2.25" fill="none" stroke="#111" stroke-width="1.7"/>
<circle cx="552.5" cy="548.9" r="2.25" fill="none" stroke="#111" stroke-width="1.7"/>
<circle cx="552.5" cy="556.8" r="2.25" fill="none" stroke="#111" stroke-width="1.7"/>
<path d="M491.9 484.1H522.1" stroke="#111" stroke-width="2.0"/>
<path d="M537.2 525.4H567.4" stroke="#111" stroke-width="2.0"/>
<text transform="translate(510.2,570.3) rotate(-45)" text-anchor="end" style="font-size:12.0px;fill:#111">SMA</text>
<text transform="translate(555.4,569.4) rotate(-45)" text-anchor="end" style="font-size:12.0px;fill:#111">Controls</text>
<text transform="translate(443.8,541.5) rotate(-90)" style="font-size:13.3px;fill:#111">Pi<tspan dy="3.5" style="font-size:10.2px">Red</tspan><tspan dy="-3.5"> (% of total Pi)</tspan></text>
<path d="M691.3 397.9V557.0H797.7" stroke="#111" stroke-width="1.8" fill="none"/>
<text x="688.6" y="562.3" text-anchor="end" class="tkc">0</text>
<text x="688.6" y="530.5" text-anchor="end" class="tkc">20</text>
<text x="688.6" y="498.7" text-anchor="end" class="tkc">40</text>
<text x="688.6" y="466.8" text-anchor="end" class="tkc">60</text>
<text x="688.6" y="435.0" text-anchor="end" class="tkc">80</text>
<text x="688.6" y="403.2" text-anchor="end" class="tkc">100</text>
<path d="M721.6 422.7V508.1" stroke="#111" stroke-width="1.0"/><path d="M714.3 422.7H728.9" stroke="#999" stroke-width="1.8"/><path d="M714.3 508.1H728.9" stroke="#111" stroke-width="1.0"/>
<path d="M766.9 414.4V447.2" stroke="#aaa" stroke-width="2.0"/><path d="M759.4 414.4H774.4" stroke="#333" stroke-width="1.0"/><path d="M759.4 447.2H774.4" stroke="#333" stroke-width="1.0"/>
<circle cx="721.6" cy="398.9" r="2.5" fill="#111"/>
<circle cx="721.6" cy="404.8" r="2.5" fill="#111"/>
<circle cx="721.6" cy="429.1" r="2.5" fill="#111"/>
<circle cx="721.6" cy="440.6" r="2.5" fill="#111"/>
<circle cx="716.9" cy="472.4" r="2.5" fill="#111"/>
<circle cx="726.0" cy="471.0" r="2.5" fill="#111"/>
<circle cx="721.6" cy="490.3" r="2.5" fill="#111"/>
<circle cx="721.6" cy="502.0" r="2.5" fill="#111"/>
<circle cx="721.6" cy="526.8" r="2.5" fill="#111"/>
<circle cx="721.6" cy="557.0" r="2.5" fill="#111"/>
<circle cx="766.8" cy="399.3" r="2.25" fill="none" stroke="#111" stroke-width="1.7"/>
<circle cx="766.8" cy="406.8" r="2.25" fill="none" stroke="#111" stroke-width="1.7"/>
<circle cx="766.8" cy="411.8" r="2.25" fill="none" stroke="#111" stroke-width="1.7"/>
<circle cx="771.8" cy="417.2" r="2.25" fill="none" stroke="#111" stroke-width="1.7"/>
<circle cx="762.1" cy="418.7" r="2.25" fill="none" stroke="#111" stroke-width="1.7"/>
<circle cx="762.1" cy="430.7" r="2.25" fill="none" stroke="#111" stroke-width="1.7"/>
<circle cx="771.8" cy="430.3" r="2.25" fill="none" stroke="#111" stroke-width="1.7"/>
<circle cx="762.1" cy="438.0" r="2.25" fill="none" stroke="#111" stroke-width="1.7"/>
<circle cx="771.8" cy="437.2" r="2.25" fill="none" stroke="#111" stroke-width="1.7"/>
<circle cx="766.8" cy="444.6" r="2.25" fill="none" stroke="#111" stroke-width="1.7"/>
<circle cx="766.8" cy="449.5" r="2.25" fill="none" stroke="#111" stroke-width="1.7"/>
<circle cx="766.8" cy="454.9" r="2.25" fill="none" stroke="#111" stroke-width="1.7"/>
<circle cx="766.8" cy="472.0" r="2.25" fill="none" stroke="#111" stroke-width="1.7"/>
<path d="M706.6 471.8H736.8" stroke="#111" stroke-width="2.0"/>
<path d="M751.9 430.7H781.7" stroke="#111" stroke-width="2.0"/>
<text transform="translate(725.0,569.8) rotate(-45)" text-anchor="end" style="font-size:12.0px;fill:#111">SMA</text>
<text transform="translate(770.7,569.9) rotate(-45)" text-anchor="end" style="font-size:12.0px;fill:#111">Controls</text>
<text transform="translate(658.8,552.8) rotate(-90)" style="font-size:13.3px;fill:#111">Pi<tspan dy="3.5" style="font-size:10.2px">IM+White</tspan><tspan dy="-3.5"> (% of total Pi)</tspan></text>
<circle cx="183" cy="490.1" r="21.2" fill="none" stroke="#555" stroke-width="1"/>
<path d="M178 496C178.5 493 180.5 491 183.5 491C186.5 491 189 493 189.8 495.3C186 495.8 182 496 178 496Z" fill="#aaa"/><path d="M185 471C186.5 471.5 187.5 474 187.5 476.5C187 478 184 479 182 479C180.5 479 178.5 477.8 177.5 477.3C175.8 481 175.6 488 176.5 492.5C177.5 491 179 490 180.5 489.7C182.5 489.2 186 489.2 188 490.3C189 489 190 488.5 191.5 488.5C194 488.3 197.5 489 199 491.5C200 493 200 495.5 198 496.5C195.5 498.5 191 501.5 188 502.2C186 502.6 184 502.6 183 502.5C180 502.3 177.5 501.5 175.5 501.5C173.5 501.5 171.5 502.3 170.5 502C168 501.5 167 499 166.8 495C166.8 490 168 484 170.5 480.5C172 477 174 474.5 176 473.5C178.5 472.3 182 471.3 185 471Z" fill="none" stroke="#555" stroke-width="1"/>
<circle cx="615" cy="489.2" r="21.8" fill="none" stroke="#333" stroke-width="1"/>
<path d="M599.3 497C599.5 490 601.5 482 606 475.5C608 473.5 612 472 618 471.25C620 472 620.6 475 620.5 477.3C619.5 479.5 616.5 480 615 479.8C613 479.5 611.5 478.5 610.5 478.3C608.5 481 608 488 609.5 493.8C611 492 612.5 490.7 614.5 490.4C616.5 490.1 619 490.3 621 491.3C622.5 489.8 624.5 489.2 627 489.3C630.5 489.5 633.3 492 633 495C632.5 498 629 500.5 626 501.5C622 503 618 503.8 613 503.6L603 503.3C600.5 503 599.3 501 599.3 497Z" fill="none" stroke="#222" stroke-width="1"/><path d="M611 499.3L619 498.2L627.6 496.8C627.2 500 624.5 503 619 503.4C614.5 503.6 611.5 502 611 499.3Z" fill="#000"/>
</svg></body></html>
